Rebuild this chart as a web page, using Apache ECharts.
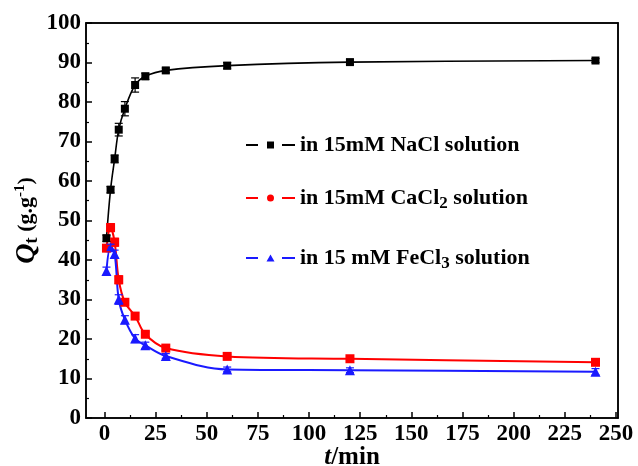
<!DOCTYPE html>
<html>
<head>
<meta charset="utf-8">
<script src="https://cdn.jsdelivr.net/npm/echarts@6/dist/echarts.min.js"></script>
<style>html,body{margin:0;padding:0;background:#fff;}#c{width:638px;height:466px;}</style>
</head>
<body>
<div id="c"></div>
<script>
// time points (min)
var times = [1, 3, 5, 7, 10, 15, 20, 30, 60, 120, 240];
// Qt values (g/g)
var naclQ = [45.5, 57.8, 65.6, 73.0, 78.3, 84.3, 86.5, 88.0, 89.2, 90.1, 90.5];
var caclQ = [43.0, 48.2, 44.5, 35.0, 29.3, 25.8, 21.2, 17.7, 15.6, 15.0, 14.1];
var feclQ = [37.2, 43.2, 41.5, 30.0, 24.9, 20.1, 18.4, 15.7, 12.3, 12.1, 11.7];
// error bar half-heights
var naclErr = [0.8, 0.8, 1.0, 1.6, 1.8, 1.8, 0.8, 0.6, 0.8, 0.6, 0.5];
var caclErr = [0.8, 1.0, 1.0, 1.0, 0.8, 0.8, 0.6, 0.6, 0.5, 0.5, 0.6];
var feclErr = [1.0, 0.8, 1.0, 1.2, 1.0, 1.0, 0.8, 0.6, 0.6, 0.6, 0.8];
// axis ticks
var xTicks = [0, 25, 50, 75, 100, 125, 150, 175, 200, 225, 250];
var xMinorTicks = [12.5, 37.5, 62.5, 87.5, 112.5, 137.5, 162.5, 187.5, 212.5, 237.5];
var seriesNames = ['NaCl', 'CaCl2', 'FeCl3'];
var legendLabels = ['{n|in 15mM NaCl solution}', '{n|in 15mM CaCl}{s|2}{n| solution}', '{n|in 15 mM FeCl}{s|3}{n| solution}'];

var FONT = '"Liberation Serif", "Times New Roman", serif';
var colors = ['#000000', '#ff0000', '#1a1aff'];

function pairs(ys) { return times.map(function (t, i) { return [t, ys[i]]; }); }
function errPairs(ys, es) { return times.map(function (t, i) { return [t, ys[i], es[i]]; }); }

function errSeries(ys, es, color) {
  return {
    type: 'custom',
    z: 5,
    silent: true,
    data: errPairs(ys, es),
    renderItem: function (params, api) {
      var x = api.value(0), y = api.value(1), e = api.value(2);
      var lo = api.coord([x, y - e]);
      var hi = api.coord([x, y + e]);
      var w = 4;
      return {
        type: 'group',
        children: [
          { type: 'line', shape: { x1: lo[0], y1: lo[1], x2: hi[0], y2: hi[1] }, style: { stroke: color, lineWidth: 1.2 } },
          { type: 'line', shape: { x1: lo[0] - w, y1: lo[1], x2: lo[0] + w, y2: lo[1] }, style: { stroke: color, lineWidth: 1.2 } },
          { type: 'line', shape: { x1: hi[0] - w, y1: hi[1], x2: hi[0] + w, y2: hi[1] }, style: { stroke: color, lineWidth: 1.2 } }
        ]
      };
    }
  };
}

var icons = [
  'path://M0,2.5H12V4.5H0Z M21,0H28V7H21Z M36,2.5H49V4.5H36Z',
  'path://M0,2.5H12V4.5H0Z M21,3.5A3.5,3.5,0,1,1,28,3.5A3.5,3.5,0,1,1,21,3.5Z M36,2.5H49V4.5H36Z',
  'path://M0,2.5H12V4.5H0Z M20.5,7L24.5,0L28.5,7Z M36,2.5H49V4.5H36Z'
];
var legendTops = [134, 187, 247];

var legendText = {
  fontFamily: FONT, fontWeight: 'bold', fontSize: 22, color: '#000',
  rich: {
    n: { fontFamily: FONT, fontWeight: 'bold', fontSize: 22, color: '#000' },
    s: { fontFamily: FONT, fontWeight: 'bold', fontSize: 17, color: '#000', padding: [12, 0, 0, 0] }
  }
};

var legends = seriesNames.map(function (nm, i) {
  return {
    data: [nm],
    left: 246,
    top: legendTops[i],
    padding: 0,
    itemWidth: 49,
    itemHeight: 7,
    itemGap: 4,
    icon: icons[i],
    selectedMode: false,
    formatter: function () { return legendLabels[i]; },
    textStyle: legendText
  };
});

function lineSeries(name, ys, color, symbol, size, width) {
  return {
    name: name,
    type: 'line',
    data: pairs(ys),
    smooth: 0.35,
    symbol: symbol,
    symbolSize: size,
    z: 4,
    itemStyle: { color: color },
    lineStyle: { color: color, width: width },
    emphasis: { disabled: true }
  };
}

var labelStyle = { fontFamily: FONT, fontWeight: 'bold', fontSize: 23, color: '#000' };

var chart = echarts.init(document.getElementById('c'), null, { renderer: 'canvas' });
chart.setOption({
  animation: false,
  backgroundColor: '#fff',
  legend: legends,
  grid: { left: 86, right: 20, top: 23, bottom: 48, containLabel: false, outerBoundsMode: 'none', show: true, borderColor: '#000', borderWidth: 1.5, backgroundColor: 'transparent' },
  xAxis: [{
    type: 'value', min: -9, max: 251, position: 'bottom',
    name: '{i|t}{n|/min}', nameLocation: 'middle', nameGap: 27, nameMoveOverlap: false,
    nameTextStyle: {
      rich: {
        i: { fontFamily: FONT, fontWeight: 'bold', fontStyle: 'italic', fontSize: 25, color: '#000' },
        n: { fontFamily: FONT, fontWeight: 'bold', fontSize: 25, color: '#000' }
      }
    },
    axisLine: { show: true, onZero: false, lineStyle: { color: '#000', width: 1.5 } },
    axisTick: { show: true, inside: true, length: 6, customValues: xTicks, lineStyle: { color: '#000', width: 1.5 } },
    axisLabel: Object.assign({ show: true, customValues: xTicks, margin: 5 }, labelStyle),
    splitLine: { show: false }
  }, {
    type: 'value', min: -9, max: 251, position: 'bottom',
    axisLine: { show: false, onZero: false },
    axisTick: { show: true, inside: true, length: 3, customValues: xMinorTicks, lineStyle: { color: '#000', width: 1.2 } },
    axisLabel: { show: false },
    splitLine: { show: false }
  }, {
    type: 'value', min: -9, max: 251, position: 'top',
    axisLine: { show: true, onZero: false, lineStyle: { color: '#000', width: 1.5 } },
    axisTick: { show: false },
    axisLabel: { show: false },
    splitLine: { show: false }
  }],
  yAxis: [{
    type: 'value', min: 0, max: 100, interval: 10, position: 'left',
    name: '{q|Q}{t|t}{n| (g.g}{s|-1}{n|)}', nameLocation: 'middle', nameGap: 44, nameRotate: 90, nameMoveOverlap: false,
    nameTextStyle: {
      rich: {
        q: { fontFamily: FONT, fontWeight: 'bold', fontStyle: 'italic', fontSize: 28, color: '#000' },
        t: { fontFamily: FONT, fontWeight: 'bold', fontSize: 19, color: '#000', padding: [12, 0, 0, 0] },
        n: { fontFamily: FONT, fontWeight: 'bold', fontSize: 22, color: '#000' },
        s: { fontFamily: FONT, fontWeight: 'bold', fontSize: 15, color: '#000', padding: [0, 0, 13, 0] }
      }
    },
    axisLine: { show: true, onZero: false, lineStyle: { color: '#000', width: 1.5 } },
    axisTick: { show: true, inside: true, length: 6, lineStyle: { color: '#000', width: 1.5 } },
    minorTick: { show: true, splitNumber: 2, length: 3, lineStyle: { color: '#000', width: 1.2 } },
    axisLabel: Object.assign({ margin: 5 }, labelStyle),
    splitLine: { show: false }
  }, {
    type: 'value', min: 0, max: 100, interval: 10, position: 'right',
    axisLine: { show: true, onZero: false, lineStyle: { color: '#000', width: 1.5 } },
    axisTick: { show: false },
    axisLabel: { show: false },
    splitLine: { show: false }
  }],
  series: [
    lineSeries('NaCl', naclQ, colors[0], 'rect', 8, 1.6),
    lineSeries('CaCl2', caclQ, colors[1], 'rect', 9, 2),
    lineSeries('FeCl3', feclQ, colors[2], 'triangle', 10, 2),
    errSeries(naclQ, naclErr, colors[0]),
    errSeries(caclQ, caclErr, colors[1]),
    errSeries(feclQ, feclErr, colors[2])
  ]
});
</script>
</body>
</html>
